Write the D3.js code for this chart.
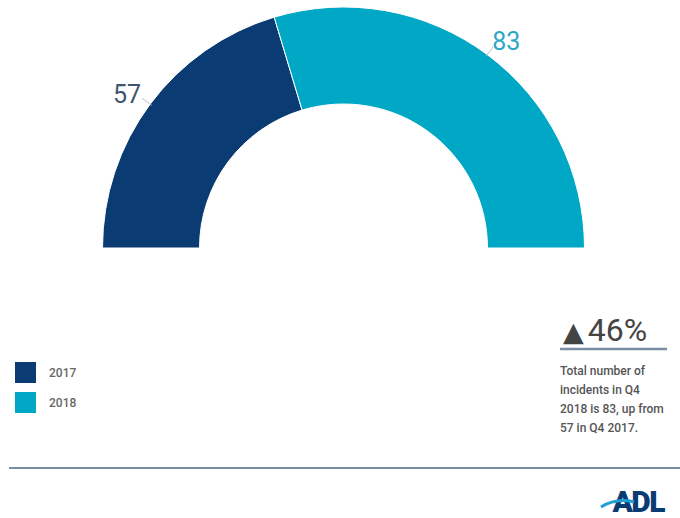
<!DOCTYPE html>
<html><head><meta charset="utf-8">
<script src="https://cdn.jsdelivr.net/npm/d3@7"></script>
<style>body{margin:0;background:#fff}svg{display:block}</style>
</head><body>
<script>
const categories = ["2017", "2018"];
const values = [57, 83];
const colors = ["#0b3b73", "#00a8c6"];
const changeArrow = "▲";
const changeValue = "46%";
const noteLines = ["Total number of", "incidents in Q4", "2018 is 83, up from", "57 in Q4 2017."];

const W = 680, H = 518;
const svg = d3.select("body").append("svg").attr("width", W).attr("height", H);

const cx = 343.5, cy = 248, rOuter = 241, rInner = 144;
const pie = d3.pie().sort(null).startAngle(-Math.PI / 2).endAngle(Math.PI / 2);
const arcs = pie(values);
const arc = d3.arc().innerRadius(rInner).outerRadius(rOuter);
const g = svg.append("g").attr("transform", `translate(${cx},${cy})`);
g.selectAll("path").data(arcs).join("path")
  .attr("d", arc).attr("fill", (d, i) => colors[i])
  .attr("stroke", "#fff").attr("stroke-width", 1);

// labels with leader lines
const labelColors = ["#3f566e", "#2aa7c2"];
arcs.forEach((d, i) => {
  const mid = (d.startAngle + d.endAngle) / 2;
  const left = Math.sin(mid) < 0;
  const p1 = [Math.sin(mid) * (rOuter - 2), -Math.cos(mid) * (rOuter - 2)];
  const p2 = [Math.sin(mid) * (rOuter + 10), -Math.cos(mid) * (rOuter + 10)];
  g.append("line").attr("x1", p1[0]).attr("y1", p1[1]).attr("x2", p2[0]).attr("y2", p2[1])
    .attr("stroke", "#b8c2cc").attr("stroke-width", 1);
  g.append("text").attr("x", p2[0] + (left ? -1 : -1)).attr("y", p2[1] + (left ? 5 : 3))
    .attr("text-anchor", left ? "end" : "start")
    .attr("font-family", "Roboto, sans-serif").attr("font-size", 25)
    .attr("fill", labelColors[i]).text(values[i]);
});

// legend
const leg = svg.append("g").attr("transform", "translate(15,362)");
categories.forEach((c, i) => {
  const row = leg.append("g").attr("transform", `translate(0,${i * 30})`);
  row.append("rect").attr("width", 21).attr("height", 21).attr("fill", colors[i]);
  row.append("text").attr("x", 34).attr("y", 15).attr("font-family", "Roboto, sans-serif")
    .attr("font-size", 12).attr("font-weight", 500).attr("fill", "#666").text(c);
});

// change callout
const ct = svg.append("text").attr("x", 563).attr("y", 341).attr("font-family", "Roboto, sans-serif")
  .attr("fill", "#444");
ct.append("tspan").attr("font-size", 27).attr("font-family", "DejaVu Sans, sans-serif").text(changeArrow);
ct.append("tspan").attr("font-size", 32).attr("dx", 4).text(changeValue);
svg.append("line").attr("x1", 560).attr("x2", 667).attr("y1", 349).attr("y2", 349)
  .attr("stroke", "#7a8ea2").attr("stroke-width", 2.5);
noteLines.forEach((t, i) => {
  svg.append("text").attr("x", 560).attr("y", 375 + i * 19)
    .attr("font-family", "Roboto, sans-serif").attr("font-size", 12).attr("font-weight", 500)
    .attr("fill", "#555").text(t);
});

// footer line
svg.append("line").attr("x1", 9).attr("x2", 680).attr("y1", 468).attr("y2", 468)
  .attr("stroke", "#7a8ea2").attr("stroke-width", 2);

// logo
const logo = svg.append("g");
logo.append("text").attr("x", 664).attr("y", 512).attr("text-anchor", "end")
  .attr("font-family", "Roboto, sans-serif").attr("font-weight", 900).attr("font-size", 30)
  .attr("letter-spacing", -1.5).attr("fill", "#0b3b73").text("ADL");
logo.append("path").attr("d", "M601,507 C611,501 622,499 634,502")
  .attr("stroke", "#1f9fd3").attr("stroke-width", 3).attr("fill", "none");
</script>
</body></html>
